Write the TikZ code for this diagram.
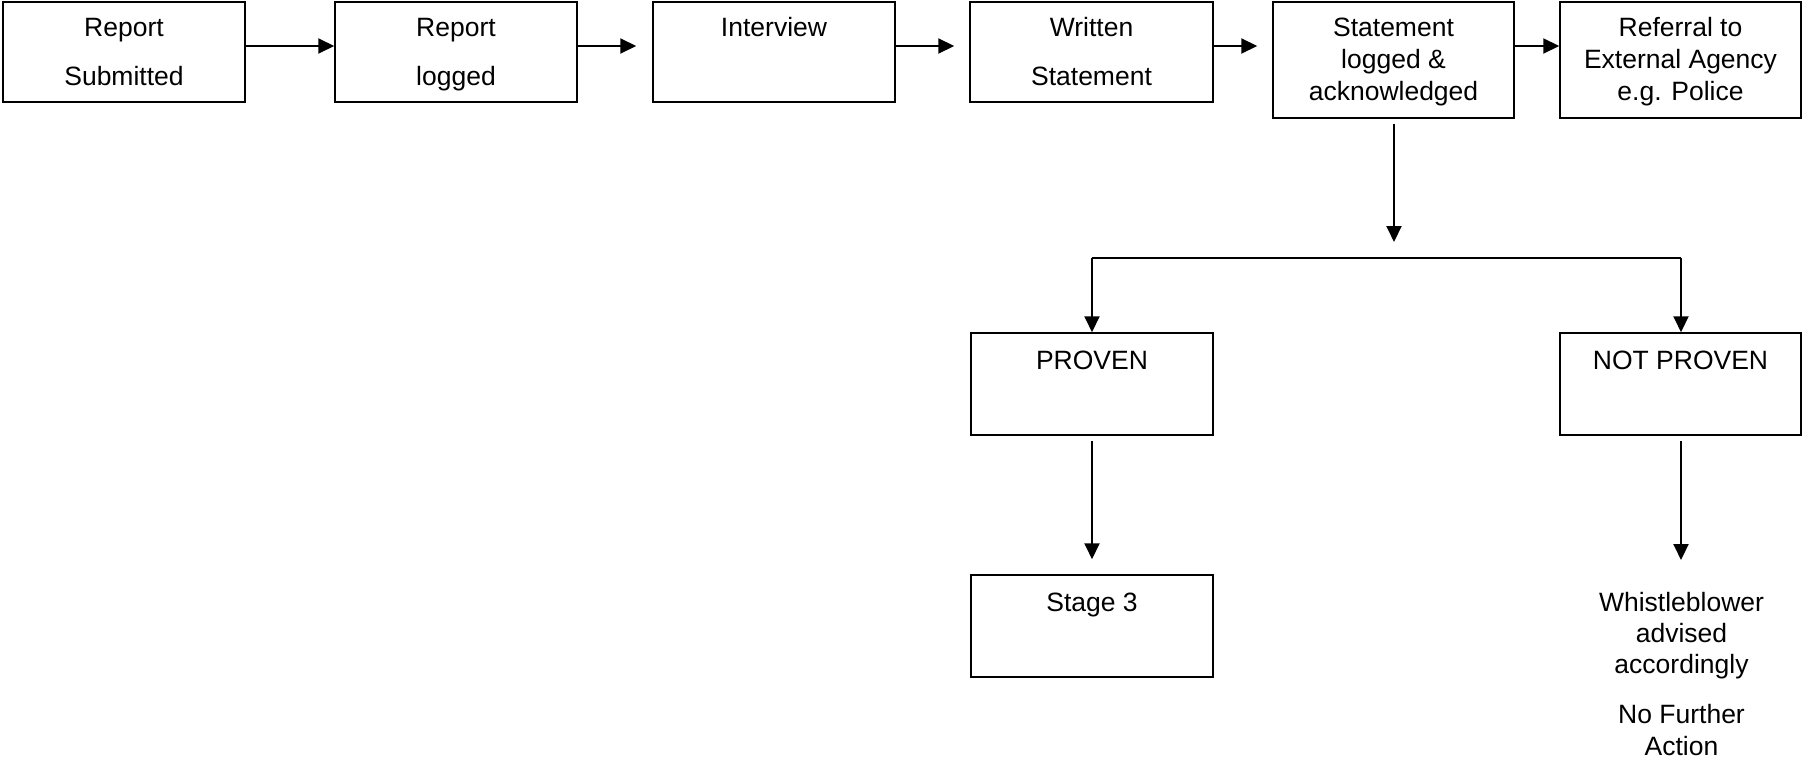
\documentclass[tikz,border=0pt]{standalone}
\usepackage{fontspec}
\setmainfont{Liberation Sans}
\usetikzlibrary{arrows.meta}
\begin{document}
\begin{tikzpicture}[x=1pt,y=-1pt,
  box/.style={draw=black,line width=1.5pt,rectangle,inner sep=0pt,minimum width=242pt,minimum height=100pt},
  tallbox/.style={box,minimum height=116pt},
  lowbox/.style={box,minimum height=102pt},
  txt/.style={anchor=base,inner sep=0pt,font=\fontsize{26.5}{31.5}\selectfont},
  arr/.style={line width=2pt,-{Triangle[length=16pt,width=15pt]}},
  conn/.style={line width=2pt}]
\useasboundingbox (0,0) rectangle (1802,760);
% boxes
\node[box] (b1) at (124,52) {};
\node[box] (b2) at (456,52) {};
\node[box] (b3) at (774,52) {};
\node[box,minimum width=243pt] (b4) at (1091.5,52) {};
\node[tallbox,minimum width=241pt] (b5) at (1393.5,60) {};
\node[tallbox,minimum width=241pt] (b6) at (1680.5,60) {};
\node[lowbox] (pr) at (1092,384) {};
\node[lowbox,minimum width=241pt] (np) at (1680.5,384) {};
\node[lowbox] (s3) at (1092,626) {};
% texts
\node[txt] (t1a) at (124,37) {Report};
\node[txt] (t1b) at (124,85) {Submitted};
\node[txt] (t2a) at (456,37) {Report};
\node[txt] (t2b) at (456,85) {logged};
\node[txt] (t3a) at (774,37) {Interview};
\node[txt] (t4a) at (1091.5,37) {Written};
\node[txt] (t4b) at (1091.5,85) {Statement};
\node[txt] (t5a) at (1393.5,37) {Statement};
\node[txt] (t5b) at (1393.5,68.5) {logged \&};
\node[txt] (t5c) at (1393.5,100) {acknowledged};
\node[txt] (t6a) at (1680.5,37) {Referral to};
\node[txt] (t6b) at (1680.5,68.5) {External Agency};
\node[txt] (t6c) at (1680.5,100) {e.g. Police};
\node[txt] (tpr) at (1092,369) {PROVEN};
\node[txt] (tnp) at (1680.5,369) {NOT PROVEN};
\node[txt] (ts3) at (1092,611) {Stage 3};
\node[txt] (w1) at (1681.5,611) {Whistleblower};
\node[txt] (w2) at (1681.5,642) {advised};
\node[txt] (w3) at (1681.5,673) {accordingly};
\node[txt] (w4) at (1681.5,723) {No Further};
\node[txt] (w5) at (1681.5,755) {Action};
% helper coordinates
\coordinate (ry) at (0,46);
\coordinate (jc) at (1394,258);
\coordinate (jl) at (1092,258);
\coordinate (jr) at (1681,258);
\coordinate (wb) at (1681,560);
% connectors
\draw[arr] (b1.east |- ry) -- (b2.west |- ry);
\draw[arr,shorten >=16pt] (b2.east |- ry) -- (b3.west |- ry);
\draw[arr,shorten >=15pt] (b3.east |- ry) -- (b4.west |- ry);
\draw[arr,shorten >=15pt] (b4.east |- ry) -- (b5.west |- ry);
\draw[arr] (b5.east |- ry) -- (b6.west |- ry);
\draw[arr,shorten <=5pt,shorten >=16pt] (jc |- b5.south) -- (jc);
\draw[conn] (jl) -- (jr);
\draw[arr] (jl) -- (pr.north);
\draw[arr] (jr) -- (jr |- np.north);
\draw[arr,shorten <=5pt,shorten >=15pt] (pr.south) -- (s3.north);
\draw[arr,shorten <=5pt] (wb |- np.south) -- (wb);
\end{tikzpicture}
\end{document}
